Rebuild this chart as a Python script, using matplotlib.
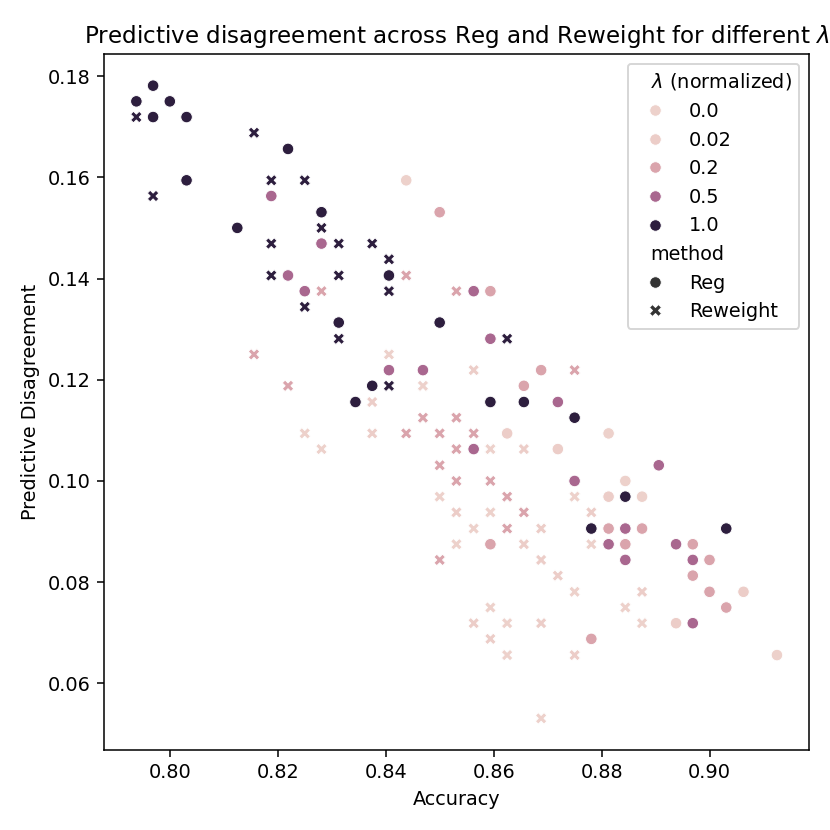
import matplotlib
matplotlib.use("Agg")
import matplotlib.pyplot as plt
import seaborn as sns
import pandas as pd

# values, one pair of lists per (lambda, method)
reg_10_acc = [0.7969, 0.7938, 0.8000, 0.7969, 0.8031, 0.8219, 0.8031, 0.8281, 0.8125, 0.8406,
              0.8313, 0.8500, 0.8375, 0.8344, 0.8594, 0.8656, 0.8750, 0.8844, 0.8781, 0.9031]
reg_10_dis = [0.1781, 0.1750, 0.1750, 0.1719, 0.1719, 0.1656, 0.1594, 0.1531, 0.1500, 0.1406,
              0.1313, 0.1313, 0.1188, 0.1156, 0.1156, 0.1156, 0.1125, 0.0969, 0.0906, 0.0906]

reg_05_acc = [0.8188, 0.8281, 0.8219, 0.8250, 0.8563, 0.8594, 0.8406, 0.8469, 0.8719, 0.8563,
              0.8750, 0.8844, 0.8813, 0.8844, 0.8906, 0.8938, 0.8969, 0.8969]
reg_05_dis = [0.1563, 0.1469, 0.1406, 0.1375, 0.1375, 0.1281, 0.1219, 0.1219, 0.1156, 0.1063,
              0.1000, 0.0906, 0.0875, 0.0844, 0.1031, 0.0875, 0.0844, 0.0719]

reg_02_acc = [0.8500, 0.8594, 0.8688, 0.8656, 0.8813, 0.8875, 0.8594, 0.8844, 0.8781, 0.8969,
              0.9000, 0.8969, 0.9000, 0.9031]
reg_02_dis = [0.1531, 0.1375, 0.1219, 0.1188, 0.0906, 0.0906, 0.0875, 0.0875, 0.0688, 0.0875,
              0.0844, 0.0813, 0.0781, 0.0750]

reg_002_acc = [0.8625, 0.8719, 0.8813, 0.9063, 0.8938]
reg_002_dis = [0.1094, 0.1063, 0.0969, 0.0781, 0.0719]

reg_00_acc = [0.8438, 0.8813, 0.8844, 0.8875, 0.9125]
reg_00_dis = [0.1594, 0.1094, 0.1000, 0.0969, 0.0656]

rw_10_acc = [0.7938, 0.8156, 0.8188, 0.8250, 0.7969, 0.8281, 0.8188, 0.8313, 0.8188, 0.8313,
             0.8375, 0.8406, 0.8406, 0.8250, 0.8313, 0.8625, 0.8406]
rw_10_dis = [0.1719, 0.1688, 0.1594, 0.1594, 0.1563, 0.1500, 0.1469, 0.1469, 0.1406, 0.1406,
             0.1469, 0.1438, 0.1375, 0.1344, 0.1281, 0.1281, 0.1188]

rw_02_acc = [0.8438, 0.8281, 0.8531, 0.8156, 0.8219, 0.8469, 0.8469, 0.8531, 0.8750, 0.8438,
             0.8500, 0.8563, 0.8531, 0.8500, 0.8531, 0.8594, 0.8625, 0.8656, 0.8625, 0.8500]
rw_02_dis = [0.1406, 0.1375, 0.1375, 0.1250, 0.1188, 0.1188, 0.1125, 0.1125, 0.1219, 0.1094,
             0.1094, 0.1094, 0.1063, 0.1031, 0.1000, 0.1000, 0.0969, 0.0938, 0.0906, 0.0844]

rw_002_acc = [0.8563, 0.8375, 0.8594, 0.8656, 0.8750, 0.8531, 0.8781, 0.8688, 0.8656, 0.8688,
              0.8375, 0.8719, 0.8875, 0.8844, 0.8563, 0.8688, 0.8594, 0.8750]
rw_002_dis = [0.1219, 0.1156, 0.1063, 0.1063, 0.0969, 0.0938, 0.0938, 0.0906, 0.0875, 0.0844,
              0.1094, 0.0813, 0.0781, 0.0750, 0.0719, 0.0719, 0.0688, 0.0656]

rw_00_acc = [0.8406, 0.8469, 0.8594, 0.8500, 0.8750, 0.8594, 0.8563, 0.8531, 0.8781, 0.8250,
             0.8281, 0.8750, 0.8594, 0.8844, 0.8625, 0.8875, 0.8625, 0.8688]
rw_00_dis = [0.1250, 0.1188, 0.1063, 0.0969, 0.0969, 0.0938, 0.0906, 0.0875, 0.0875, 0.1094,
             0.1063, 0.0781, 0.0750, 0.0750, 0.0719, 0.0719, 0.0656, 0.0531]

groups = [
    ("Reg", 1.0, reg_10_acc, reg_10_dis),
    ("Reg", 0.5, reg_05_acc, reg_05_dis),
    ("Reg", 0.2, reg_02_acc, reg_02_dis),
    ("Reg", 0.02, reg_002_acc, reg_002_dis),
    ("Reg", 0.0, reg_00_acc, reg_00_dis),
    ("Reweight", 1.0, rw_10_acc, rw_10_dis),
    ("Reweight", 0.2, rw_02_acc, rw_02_dis),
    ("Reweight", 0.02, rw_002_acc, rw_002_dis),
    ("Reweight", 0.0, rw_00_acc, rw_00_dis),
]

hue_col = r"$\lambda$ (normalized)"
rows = []
for meth, lam, accs, diss in groups:
    for a, d in zip(accs, diss):
        rows.append({"Accuracy": a, "Predictive Disagreement": d, hue_col: lam, "method": meth})
df = pd.DataFrame(rows)

fig = plt.figure(figsize=(6, 6), dpi=830 / 6)
ax = fig.add_axes([0.1257, 0.0964, 0.8490, 0.8385])
sns.scatterplot(data=df, x="Accuracy", y="Predictive Disagreement",
                hue=hue_col, style="method", ax=ax)
ax.set_title(r"Predictive disagreement across Reg and Reweight for different $\lambda$")

# subtitles in the legend sit to the left, like the old seaborn look
leg = ax.get_legend()
for col in leg._legend_handle_box.get_children():
    for row in col.get_children():
        handle_box, text_box = row.get_children()
        if text_box._text.get_text() in (hue_col, "method"):
            handle_box.width = 0

fig.savefig("out.png", dpi=830 / 6)
